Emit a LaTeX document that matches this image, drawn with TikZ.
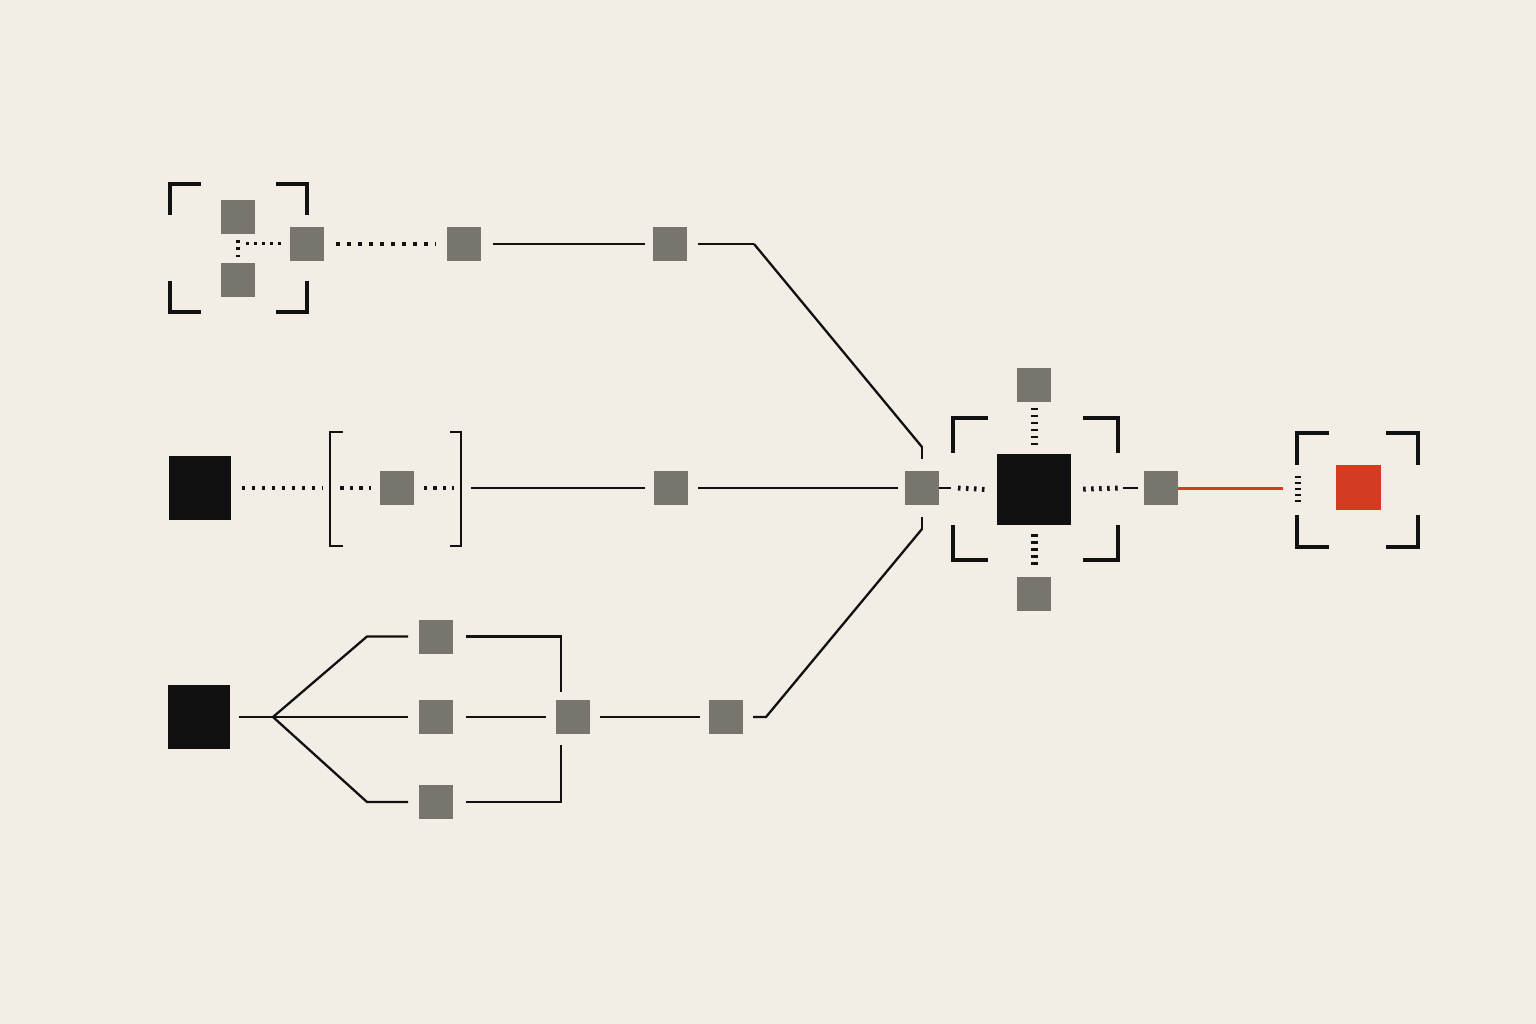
\documentclass[tikz,border=0pt]{standalone}
\definecolor{paper}{HTML}{F2EDE5}
\definecolor{stone}{HTML}{77756D}
\definecolor{ink}{HTML}{111111}
\definecolor{signal}{HTML}{D53A22}

\tikzset{
  gsq/.style={fill=stone, minimum size=34pt, inner sep=0pt, outer sep=0pt},
  bsq/.style={fill=ink, minimum width=62pt, minimum height=64pt, inner sep=0pt, outer sep=0pt},
  link/.style={draw=ink, line width=2.3pt},
  bracket/.style={draw=ink, line width=3.5pt, line cap=rect, line join=miter},
  dotrow/.style={draw=ink, line width=3.5pt, dash pattern=on 3.5pt off 7.5pt},
  hticks/.style={draw=ink, line width=5pt, dash pattern=on 2.5pt off 5.5pt},
  vticks/.style={draw=ink, line width=7pt, dash pattern=on 2.5pt off 4.5pt},
}

% corner frame: x1, y1, x2, y2, arm
\newcommand{\cornerframe}[5]{%
  \draw[bracket] (#1,{#2+#5}) -- (#1,#2) -- ({#1+#5},#2);
  \draw[bracket] ({#3-#5},#2) -- (#3,#2) -- (#3,{#2+#5});
  \draw[bracket] (#1,{#4-#5}) -- (#1,#4) -- ({#1+#5},#4);
  \draw[bracket] ({#3-#5},#4) -- (#3,#4) -- (#3,{#4-#5});
}

\begin{document}
\begin{tikzpicture}[x=1pt, y=-1pt]
  \fill[paper] (0,0) rectangle (1536,1024);
  \useasboundingbox (0,0) rectangle (1536,1024);

  % top branch
  \cornerframe{170}{184}{307}{312}{29}
  \node[gsq] (a1) at (238,217) {};
  \node[gsq] (a2) at (238,280) {};
  \node[gsq] (a3) at (307,244) {};
  \node[gsq] (a4) at (464,244) {};
  \node[gsq] (a5) at (670,244) {};
  \coordinate (aj) at (246,244);
  \coordinate (ak) at (754,244);
  \coordinate (al) at (922,447);

  \draw[ink, line width=4.5pt, dash pattern=on 3pt off 4.5pt, shorten <=6pt, shorten >=6pt] (a1.south) -- (a2.north);
  \draw[ink, line width=3pt, dash pattern=on 3pt off 5pt] (aj) -- ([xshift=-7pt]a3.west);
  \draw[dotrow, shorten <=12pt, shorten >=11pt] (a3.east) -- (a4.west);
  \draw[link, shorten <=12pt, shorten >=8pt] (a4.east) -- (a5.west);

  % middle branch
  \node[bsq] (m0) at (199.5,488) {};
  \node[gsq] (m1) at (396.5,488) {};
  \node[gsq] (m2) at (671,488) {};
  \draw[bracket, line width=2.8pt] (342,432) -- (330,432) -- (330,546) -- (342,546);
  \draw[bracket, line width=2.8pt] (451,432) -- (461,432) -- (461,546) -- (451,546);
  \draw[dotrow, dash pattern=on 3.5pt off 6.5pt, shorten <=11pt] (m0.east) -- (322,488);
  \draw[dotrow, dash pattern=on 3.5pt off 6pt] (340,488) -- ([xshift=-9pt]m1.west);
  \draw[dotrow, dash pattern=on 3.5pt off 6pt, shorten <=10pt] (m1.east) -- (454,488);
  \draw[link, shorten >=9pt] (471,488) -- (m2.west);

  % hub
  \node[gsq] (hub) at (922,488) {};
  \node[fill=ink, minimum width=74pt, minimum height=71pt, inner sep=0pt] (core) at (1034,489.5) {};
  \node[gsq] (c1) at (1034,384.5) {};
  \node[gsq] (c2) at (1034,594) {};
  \cornerframe{953}{418}{1118}{560}{33}
  \draw[link, shorten <=10pt, shorten >=7pt] (m2.east) -- (hub.west);
  \draw[link] (ak) -- (al);
  \draw[link, shorten <=-1pt, shorten >=12pt] (al) -- (hub.north);
  \draw[link, shorten <=11pt] (a5.east) -- (ak);
  \draw[link] (hub.east) -- ++(12,0);
  \draw[hticks] ([xshift=19pt]hub.east) -- ([xshift=-11pt]core.west);
  \draw[vticks, shorten <=6pt, shorten >=8pt] (c1.south) -- (core.north);
  \draw[vticks, shorten <=9pt, shorten >=8pt] (core.south) -- (c2.north);

  % output
  \node[gsq] (r1) at (1161,488) {};
  \node[fill=signal, minimum size=45pt, inner sep=0pt] (rs) at (1358.5,487.5) {};
  \coordinate (rend) at (1283,488);
  \draw[hticks, shorten <=12pt] (core.east) -- ([xshift=-26pt]r1.west);
  \draw[link] ([xshift=-21pt]r1.west) -- ([xshift=-6pt]r1.west);
  \draw[signal, line width=3pt] (r1.east) -- (rend);
  \draw[ink, line width=6pt, dash pattern=on 2.2pt off 3.8pt] (1298,476) -- (1298,502);
  \cornerframe{1297}{433}{1418}{547}{30}

  % bottom branch
  \node[bsq] (b0) at (199,717) {};
  \node[gsq] (b1) at (436,636.5) {};
  \node[gsq] (b2) at (436,717) {};
  \node[gsq] (b3) at (436,802) {};
  \node[gsq] (bm) at (573,717) {};
  \node[gsq] (b4) at (726,717) {};
  \coordinate (fork) at (273,717);
  \coordinate (bk) at (766,717);
  \coordinate (bl) at (922,529);

  \draw[link, shorten <=9pt] (b0.east) -- (fork);
  \draw[link, shorten >=11pt] (fork) -- (367,636.5) -- (b1.west);
  \draw[link, shorten >=11pt] (fork) -- (b2.west);
  \draw[link, shorten >=11pt] (fork) -- (367,802) -- (b3.west);
  \draw[link, shorten <=13pt, shorten >=8pt] (b1.east) -- (561,636.5) -- (561,700);
  \draw[link, shorten <=13pt, shorten >=10pt] (b2.east) -- (bm.west);
  \draw[link, shorten <=13pt, shorten >=11pt] (b3.east) -- (561,802) -- (561,734);
  \draw[link, shorten <=10pt, shorten >=9pt] (bm.east) -- (b4.west);
  \draw[link, shorten <=10pt] (b4.east) -- (bk) -- (bl);
  \draw[link, shorten <=-1pt, shorten >=12pt] (bl) -- (hub.south);
\end{tikzpicture}
\end{document}
